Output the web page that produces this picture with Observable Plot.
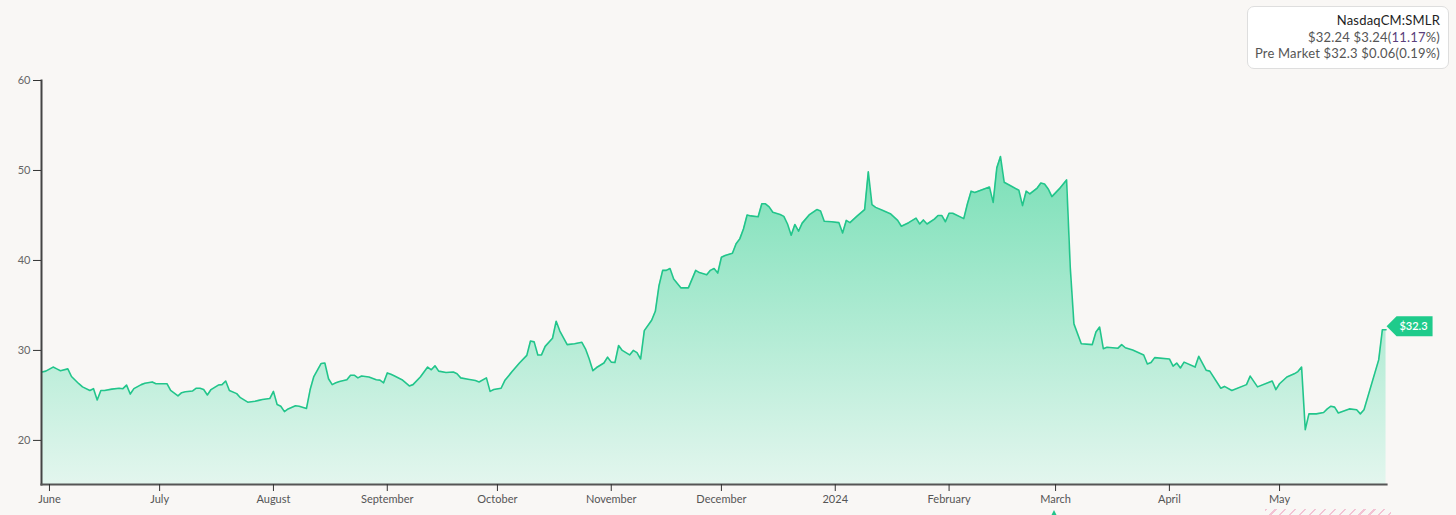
<!DOCTYPE html>
<html>
<head>
<meta charset="utf-8">
<script src="https://cdn.jsdelivr.net/npm/d3@7"></script>
<script src="https://cdn.jsdelivr.net/npm/@observablehq/plot@0.6"></script>
<style>
  html, body { margin: 0; padding: 0; background: #f9f7f5; }
  #wrap { position: relative; width: 1456px; height: 515px; overflow: hidden; font-family: Lato, "Noto Sans", sans-serif; }
  #info { position: absolute; left: 1247px; top: 6px; width: 202px; height: 63px; box-sizing: border-box;
          background: #fff; border: 1px solid #dedede; border-radius: 7px; padding: 5px 8px 0 0;
          text-align: right; font-size: 13px; line-height: 16.7px; color: #555; letter-spacing: 0.2px; }
  #info .t { color: #222; }
  #info .pct { color: #5b3f7d; }
  #hatch { position: absolute; left: 1265px; top: 509px; width: 126px; height: 6px;
           background: repeating-linear-gradient(135deg, #f3c3d4 0 1.5px, transparent 1.5px 7px); }
  #mark { position: absolute; left: 1051px; top: 510px; width: 0; height: 0;
          border-left: 3px solid transparent; border-right: 3px solid transparent; border-bottom: 6px solid #22c58b; }
</style>
</head>
<body>
<div id="wrap">
  <div id="chart"></div>
  <div id="info"></div>
  <div id="hatch"></div>
  <div id="mark"></div>
</div>
<script>
const ticker = "NasdaqCM:SMLR";
const quoteLine = ["$32.24 $3.24(", "11.17", "%)"];
const preMarketLine = "Pre Market $32.3 $0.06(0.19%)";
const lastLabel = "$32.3";
const yTicks = [20, 30, 40, 50, 60];
const monthNames = ["January","February","March","April","May","June","July","August","September","October","November","December"];

const dates = [
"2023-05-30","2023-05-31","2023-06-02","2023-06-03","2023-06-04","2023-06-06","2023-06-07","2023-06-09","2023-06-10","2023-06-12",
"2023-06-13","2023-06-14","2023-06-15","2023-06-16","2023-06-18","2023-06-20","2023-06-21","2023-06-22","2023-06-23","2023-06-24",
"2023-06-26","2023-06-27","2023-06-29","2023-06-30","2023-07-03","2023-07-04","2023-07-06","2023-07-07","2023-07-08","2023-07-10",
"2023-07-11","2023-07-12","2023-07-13","2023-07-14","2023-07-15","2023-07-17","2023-07-18","2023-07-19","2023-07-20","2023-07-22",
"2023-07-23","2023-07-25","2023-07-27","2023-07-28","2023-07-29","2023-07-31","2023-08-01","2023-08-02","2023-08-03","2023-08-04",
"2023-08-05","2023-08-07","2023-08-08","2023-08-10","2023-08-11","2023-08-12","2023-08-14","2023-08-15","2023-08-16","2023-08-17",
"2023-08-18","2023-08-19","2023-08-21","2023-08-22","2023-08-23","2023-08-24","2023-08-25","2023-08-27","2023-08-29","2023-08-30",
"2023-08-31","2023-09-01","2023-09-02","2023-09-03","2023-09-05","2023-09-07","2023-09-08","2023-09-10","2023-09-12","2023-09-13",
"2023-09-14","2023-09-15","2023-09-17","2023-09-19","2023-09-20","2023-09-21","2023-09-23","2023-09-25","2023-09-26","2023-09-28",
"2023-09-29","2023-09-30","2023-10-02","2023-10-03","2023-10-05","2023-10-07","2023-10-09","2023-10-10","2023-10-11","2023-10-12",
"2023-10-13","2023-10-14","2023-10-16","2023-10-17","2023-10-18","2023-10-20","2023-10-22","2023-10-24","2023-10-25","2023-10-26",
"2023-10-27","2023-10-28","2023-10-30","2023-10-31","2023-11-01","2023-11-02","2023-11-03","2023-11-04","2023-11-06","2023-11-07",
"2023-11-08","2023-11-09","2023-11-10","2023-11-12","2023-11-13","2023-11-14","2023-11-15","2023-11-16","2023-11-17","2023-11-18",
"2023-11-20","2023-11-22","2023-11-24","2023-11-25","2023-11-27","2023-11-28","2023-11-29","2023-11-30","2023-12-01","2023-12-02",
"2023-12-04","2023-12-05","2023-12-06","2023-12-07","2023-12-08","2023-12-09","2023-12-11","2023-12-12","2023-12-13","2023-12-14",
"2023-12-15","2023-12-17","2023-12-18","2023-12-19","2023-12-20","2023-12-21","2023-12-22","2023-12-23","2023-12-25","2023-12-27",
"2023-12-28","2023-12-29","2023-12-31","2024-01-02","2024-01-03","2024-01-04","2024-01-05","2024-01-07","2024-01-09","2024-01-10",
"2024-01-11","2024-01-12","2024-01-14","2024-01-16","2024-01-18","2024-01-19","2024-01-21","2024-01-23","2024-01-24","2024-01-25",
"2024-01-26","2024-01-28","2024-01-29","2024-01-30","2024-01-31","2024-02-01","2024-02-02","2024-02-05","2024-02-06","2024-02-07",
"2024-02-08","2024-02-10","2024-02-12","2024-02-13","2024-02-14","2024-02-15","2024-02-16","2024-02-18","2024-02-20","2024-02-21",
"2024-02-22","2024-02-23","2024-02-25","2024-02-26","2024-02-27","2024-02-28","2024-02-29","2024-03-02","2024-03-04","2024-03-05",
"2024-03-06","2024-03-08","2024-03-11","2024-03-12","2024-03-13","2024-03-14","2024-03-15","2024-03-18","2024-03-19","2024-03-20",
"2024-03-22","2024-03-25","2024-03-26","2024-03-27","2024-03-28","2024-04-01","2024-04-02","2024-04-03","2024-04-04","2024-04-05",
"2024-04-08","2024-04-09","2024-04-11","2024-04-12","2024-04-15","2024-04-16","2024-04-18","2024-04-22","2024-04-23","2024-04-25",
"2024-04-29","2024-04-30","2024-05-01","2024-05-03","2024-05-05","2024-05-06","2024-05-07","2024-05-08","2024-05-09","2024-05-11",
"2024-05-13","2024-05-14","2024-05-15","2024-05-16","2024-05-17","2024-05-20","2024-05-22","2024-05-23","2024-05-24","2024-05-28",
"2024-05-29","2024-05-30"
];

const prices = [
27.6,27.7,28.15,27.95,27.75,27.95,27.1,26.3,25.95,25.55,
25.75,24.5,25.55,25.55,25.7,25.8,25.75,26.15,25.15,25.75,
26.2,26.35,26.5,26.3,26.3,25.55,24.95,25.3,25.4,25.5,
25.8,25.8,25.65,25.05,25.65,26.15,26.2,26.6,25.55,25.2,
24.75,24.25,24.35,24.45,24.55,24.65,25.45,24.0,23.8,23.2,
23.5,23.85,23.8,23.55,25.65,27.1,28.55,28.6,26.85,26.2,
26.4,26.55,26.75,27.25,27.25,26.95,27.15,27.05,26.75,26.7,
26.4,27.5,27.35,27.15,26.75,26.05,26.2,27.05,28.15,27.85,
28.3,27.7,27.55,27.6,27.4,26.95,26.8,26.65,26.5,26.95,
25.45,25.65,25.8,26.65,27.65,28.6,29.45,31.05,30.95,29.5,
29.5,30.45,31.35,33.25,32.15,30.65,30.75,30.9,30.15,29.05,
27.75,28.1,28.6,29.25,28.7,28.65,30.55,30.0,29.5,30.0,
29.75,29.05,32.2,33.35,34.35,37.2,38.9,38.9,39.1,37.95,
36.95,36.95,38.9,38.65,38.4,38.9,39.1,38.6,40.35,40.55,
40.8,41.85,42.4,43.5,45.05,44.95,44.85,46.3,46.3,45.95,
45.35,45.1,44.9,44.05,42.8,44.0,43.25,44.15,45.1,45.65,
45.5,44.35,44.3,44.2,43.05,44.45,44.2,44.95,45.65,49.85,
46.2,45.9,45.55,45.2,44.45,43.8,44.2,44.7,44.05,44.5,
44.05,44.6,45.0,45.0,44.3,45.25,45.25,44.65,46.3,47.7,
47.55,47.85,48.15,46.45,50.3,51.55,48.7,48.25,47.8,46.1,
47.7,47.4,48.05,48.6,48.5,47.95,47.1,47.95,48.95,39.25,
32.95,30.75,30.65,32.05,32.6,30.2,30.35,30.25,30.65,30.3,
30.05,29.5,28.5,28.65,29.2,29.05,28.25,28.6,28.05,28.7,
28.15,29.35,27.8,27.7,25.8,26.0,25.55,26.2,27.15,25.95,
26.6,25.65,26.3,27.05,27.4,27.65,28.15,21.2,22.95,22.95,
23.1,23.5,23.8,23.7,23.05,23.5,23.4,22.95,23.4,28.95,
32.3,32.3
];

const data = dates.map((d, i) => ({date: new Date(d + "T00:00:00Z"), price: prices[i]}));
const yMin = 15.1, yMax = 60;
const xDomain = [new Date("2023-05-29T20:00:00Z"), new Date("2024-05-30T03:00:00Z")];
const last = data[data.length - 1];

const fontFamily = 'Lato, "Noto Sans", sans-serif';

const gradientMark = (index, scales) => {
  const defs = d3.create("svg:defs");
  const lg = defs.append("linearGradient")
    .attr("id", "areaGrad").attr("gradientUnits", "userSpaceOnUse")
    .attr("x1", 0).attr("x2", 0)
    .attr("y1", scales.y(52)).attr("y2", scales.y(yMin));
  lg.append("stop").attr("offset", "0%").attr("stop-color", "#78dfb6");
  lg.append("stop").attr("offset", "100%").attr("stop-color", "#e3f6ee");
  return defs.node();
};

const tagMark = (index, scales) => {
  const x = scales.x(last.date), y = scales.y(last.price);
  const g = d3.create("svg:g");
  g.append("path")
    .attr("d", `M${x + 1},${y - 3} L${x + 11},${y - 13} H${x + 47} V${y + 7} H${x + 11} Z`)
    .attr("fill", "#1fcb8b");
  g.append("text")
    .attr("x", x + 28).attr("y", y - 3)
    .attr("text-anchor", "middle").attr("dy", "0.35em")
    .attr("fill", "#fff").attr("font-size", 11).attr("font-weight", 600)
    .attr("font-family", fontFamily)
    .text(lastLabel);
  return g.node();
};

const chart = Plot.plot({
  width: 1456,
  height: 515,
  marginLeft: 41,
  marginRight: 70,
  marginTop: 80,
  marginBottom: 31,
  style: {background: "transparent", fontFamily, fontSize: "11px", color: "#666"},
  x: {type: "utc", domain: xDomain},
  y: {domain: [yMin, yMax]},
  marks: [
    gradientMark,
    Plot.areaY(data, {x: "date", y1: yMin, y2: "price", fill: "url(#areaGrad)", curve: "linear"}),
    Plot.lineY(data, {x: "date", y: "price", stroke: "#22c58b", strokeWidth: 1.6, curve: "linear"}),
    Plot.frame({anchor: "left", stroke: "#444", strokeWidth: 2}),
    Plot.frame({anchor: "bottom", stroke: "#555", strokeWidth: 2.2}),
    Plot.axisY({ticks: yTicks, tickSize: 8, tickPadding: 3, stroke: "#333", fill: "#666", label: null}),
    Plot.axisX({
      ticks: d3.utcMonth.every(1), tickSize: 7, tickPadding: 4, stroke: "#333", fill: "#555", label: null,
      tickFormat: d => d.getUTCMonth() === 0 ? String(d.getUTCFullYear()) : monthNames[d.getUTCMonth()]
    }),
    tagMark
  ]
});
document.getElementById("chart").appendChild(chart);

const info = document.getElementById("info");
info.innerHTML = `<div class="t"></div><div class="q"></div><div class="p"></div>`;
info.querySelector(".t").textContent = ticker;
const q = info.querySelector(".q");
q.append(quoteLine[0]);
const s = document.createElement("span"); s.className = "pct"; s.textContent = quoteLine[1]; q.append(s);
q.append(quoteLine[2]);
info.querySelector(".p").textContent = preMarketLine;
</script>
</body>
</html>
